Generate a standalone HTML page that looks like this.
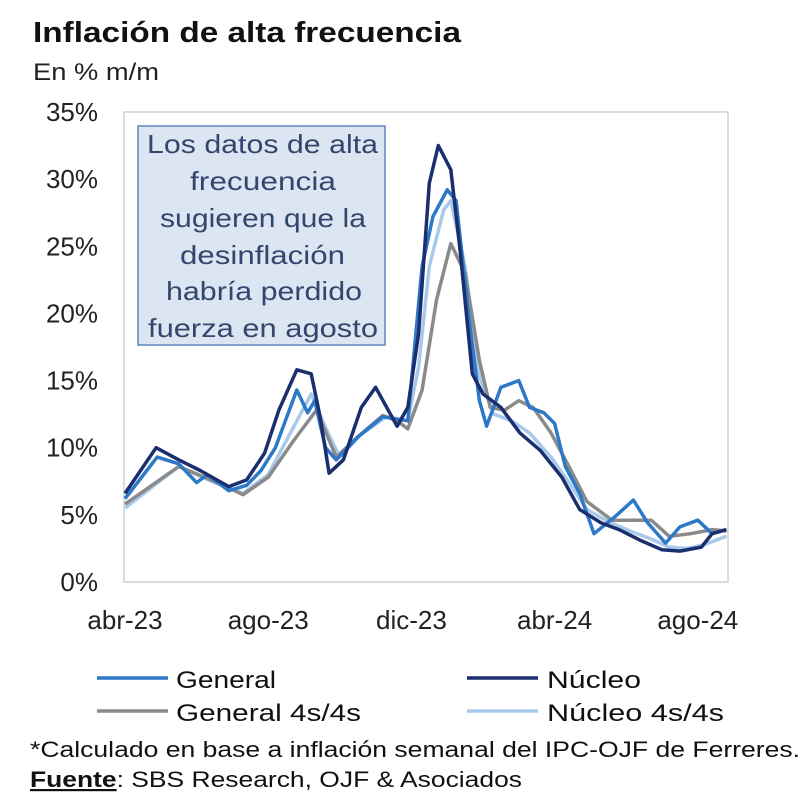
<!DOCTYPE html>
<html><head><meta charset="utf-8"><style>
body{margin:0;background:#fff}
svg{display:block;font-family:"Liberation Sans Narrow","Liberation Sans",sans-serif}
</style></head><body>
<svg id="chart" width="800" height="793" viewBox="0 0 800 793">
<text x="33" y="42" font-size="29" font-weight="bold" fill="#111" textLength="428" lengthAdjust="spacingAndGlyphs">Inflación de alta frecuencia</text>
<text x="33" y="80" font-size="24" fill="#222" textLength="126" lengthAdjust="spacingAndGlyphs">En % m/m</text>
<rect x="124" y="112" width="604" height="470" fill="#fff" stroke="#d0d0d0" stroke-width="1.5"/>
<g id="yticks"></g><g id="xticks"></g><g id="series"></g>
<g>
<rect x="138" y="126" width="247" height="219" fill="#dce6f2" stroke="#5b86c0" stroke-width="1.5"/>
<g font-size="26" fill="#34466e" lengthAdjust="spacingAndGlyphs">
<text x="147" y="153" textLength="231" lengthAdjust="spacingAndGlyphs">Los datos de alta</text>
<text x="190" y="190" textLength="146" lengthAdjust="spacingAndGlyphs">frecuencia</text>
<text x="160" y="227" textLength="206" lengthAdjust="spacingAndGlyphs">sugieren que la</text>
<text x="180" y="264" textLength="165" lengthAdjust="spacingAndGlyphs">desinflación</text>
<text x="166" y="300" textLength="196" lengthAdjust="spacingAndGlyphs">habría perdido</text>
<text x="148" y="337" textLength="230" lengthAdjust="spacingAndGlyphs">fuerza en agosto</text>
</g></g>
<g font-size="24" fill="#111">
<g><line x1="97" y1="678" x2="168" y2="678" stroke="#2e78c8" stroke-width="3.5"/><text x="176" y="688" textLength="100" lengthAdjust="spacingAndGlyphs">General</text></g>
<g><line x1="467" y1="678" x2="538" y2="678" stroke="#1b2f6e" stroke-width="3.5"/><text x="547" y="688" textLength="94" lengthAdjust="spacingAndGlyphs">Núcleo</text></g>
<g><line x1="97" y1="711" x2="168" y2="711" stroke="#8a8a8a" stroke-width="3.5"/><text x="176" y="721" textLength="185" lengthAdjust="spacingAndGlyphs">General 4s/4s</text></g>
<g><line x1="467" y1="711" x2="538" y2="711" stroke="#a8c8ec" stroke-width="3.5"/><text x="547" y="721" textLength="177" lengthAdjust="spacingAndGlyphs">Núcleo 4s/4s</text></g>
</g>
<text x="30" y="757" font-size="22" fill="#111" textLength="770" lengthAdjust="spacingAndGlyphs">*Calculado en base a inflación semanal del IPC-OJF de Ferreres.</text>
<text x="30" y="787" font-size="22" fill="#111" textLength="492" lengthAdjust="spacingAndGlyphs"><tspan font-weight="bold" text-decoration="underline">Fuente</tspan>: SBS Research,  OJF &amp; Asociados</text>
</svg>
<script>
const yTicks=[0,5,10,15,20,25,30,35];
const xLabels=["abr-23","ago-23","dic-23","abr-24","ago-24"];
const xLabelMonths=[0,4,8,12,16];
const generalM=[0,0.9,1.5,2.0,2.3,2.9,3.4,3.8,4.2,4.8,5.1,5.3,5.6,5.9,6.5,7.2,7.9,8.3,8.6,9.0,9.25,9.6,9.9,10.1,10.5,11.0,11.3,11.7,12.0,12.3,12.7,13.1,13.7,14.2,14.6,15.1,15.5,16.0,16.4,16.8];
const generalV=[6.2,9.3,8.8,7.4,8.0,6.8,7.2,8.3,10,14.3,12.6,13.5,10,9.1,10.8,12.3,12,23.5,27.2,29.2,28.4,19.8,13.5,11.6,14.5,15,13,12.6,11.8,8.6,6.6,3.6,4.9,6.1,4.4,2.9,4.1,4.6,3.6,3.9];
const nucleoM=[0,0.87,1.5,2.1,2.9,3.4,3.9,4.3,4.8,5.2,5.45,5.7,6.1,6.6,7.0,7.6,7.9,8.2,8.5,8.75,9.1,9.36,9.7,10.0,10.5,11.03,11.6,12.2,12.7,13.3,13.8,14.4,15.0,15.5,16.1,16.4,16.8];
const nucleoV=[6.6,10,9.1,8.3,7.1,7.6,9.6,12.8,15.8,15.5,12.3,8.1,9.1,13,14.5,11.6,13,18.5,29.7,32.5,30.7,24.7,15.5,14,13,11.1,9.8,7.8,5.4,4.4,3.9,3.1,2.4,2.3,2.6,3.6,3.9];
const general4M=[0,1.5,2.5,3.3,4.0,4.7,5.35,5.9,6.5,7.2,7.6,7.9,8.3,8.7,9.1,9.5,9.9,10.2,10.6,11.0,11.4,11.9,12.4,12.9,13.6,14.2,14.7,15.2,15.8,16.4,16.8];
const general4V=[5.8,8.6,7.5,6.5,7.8,10.5,12.8,9.3,10.8,12.4,12,11.4,14.3,21,25.2,23,16.5,13,12.8,13.5,13,11.1,8.6,6.0,4.6,4.6,4.6,3.4,3.6,3.9,3.8];
const nucleo4M=[0,1.5,2.5,3.3,4.0,4.6,5.2,5.6,6.0,6.6,7.3,7.9,8.2,8.5,8.9,9.1,9.5,9.9,10.3,10.8,11.3,11.9,12.4,12.9,13.5,14.1,14.7,15.2,15.7,16.2,16.8];
const nucleo4V=[5.5,8.6,7.4,6.6,8.0,11,14,11.5,9.3,11,12.3,12,16,23.5,27.7,28.4,23.5,15.3,12.5,12,11.1,9.3,7.4,5.4,4.5,3.8,3.2,2.6,2.5,2.8,3.4];
const NS="http://www.w3.org/2000/svg";
const xS=m=>125+35.8*m, yS=v=>582-13.43*v;
const yt=document.getElementById('yticks');
yTicks.forEach(v=>{const t=document.createElementNS(NS,'text');
t.setAttribute('x',98);t.setAttribute('y',yS(v)+9);t.setAttribute('text-anchor','end');t.setAttribute('font-size','26');t.setAttribute('fill','#222');


t.textContent=v+'%';yt.appendChild(t);});
const xt=document.getElementById('xticks');
xLabels.forEach((l,i)=>{const t=document.createElementNS(NS,'text');
t.setAttribute('x',xS(xLabelMonths[i]));t.setAttribute('y',629);t.setAttribute('text-anchor','middle');t.setAttribute('font-size','26');t.setAttribute('fill','#222');


t.textContent=l;xt.appendChild(t);});
const sg=document.getElementById('series');
function line(ms,vs,color,name){const p=document.createElementNS(NS,'polyline');
p.setAttribute('points',ms.map((m,i)=>xS(m).toFixed(1)+','+yS(vs[i]).toFixed(1)).join(' '));
p.setAttribute('fill','none');p.setAttribute('stroke',color);p.setAttribute('stroke-width','3.5');p.setAttribute('stroke-linejoin','round');


sg.appendChild(p);}
line(nucleo4M,nucleo4V,'#a8c8ec','nucleo-4s-line');
line(general4M,general4V,'#8a8a8a','general-4s-line');
line(generalM,generalV,'#2e78c8','general-line');
line(nucleoM,nucleoV,'#1b2f6e','nucleo-line');
</script>
</body></html>
